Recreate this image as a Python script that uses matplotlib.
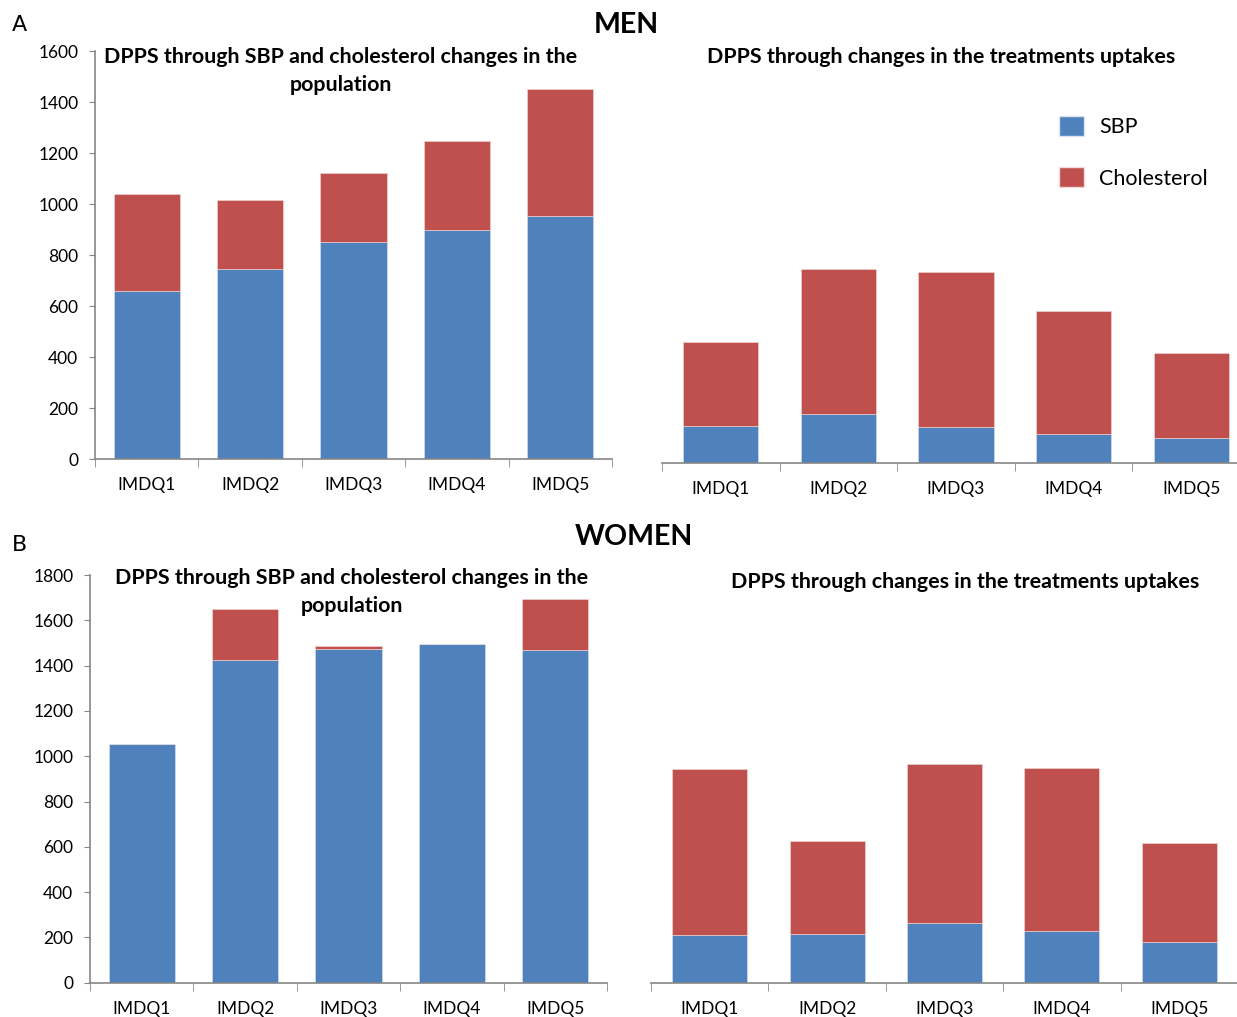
import matplotlib
matplotlib.use("Agg")
import matplotlib.pyplot as plt
from matplotlib.patches import Patch
import numpy as np

plt.rcParams['font.family'] = ['Lato', 'DejaVu Sans']

quintiles = ['IMDQ1', 'IMDQ2', 'IMDQ3', 'IMDQ4', 'IMDQ5']

# men - population level changes (total bar = SBP + cholesterol)
men_pop_sbp = [660, 746, 850, 899, 953]
men_pop_chol = [380, 269, 271, 348, 497]
# men - treatment uptakes
men_trt_sbp = [146, 194, 144, 114, 98]
men_trt_chol = [328, 569, 607, 482, 334]

# women - population level changes
women_pop_sbp = [1052, 1425, 1472, 1494, 1469]
women_pop_chol = [0, 226, 16, 3, 225]
# women - treatment uptakes
women_trt_sbp = [210, 216, 264, 230, 178]
women_trt_chol = [733, 411, 703, 718, 440]

blue = '#4F81BD'
red = '#C0504D'
grey = '#868686'

W, H = 1237, 1017
fig = plt.figure(figsize=(W / 100, H / 100), dpi=100)


def px_axes(left, right, bottom, top):
    return fig.add_axes([left / W, 1 - bottom / H, (right - left) / W, (bottom - top) / H])


def draw(ax, sbp, chol, ymax, yticks=True):
    x = np.arange(len(quintiles))
    ax.bar(x, sbp, width=0.64, color=blue, edgecolor='#DCE6F2', linewidth=0.4)
    ax.bar(x, chol, width=0.64, bottom=sbp, color=red, edgecolor='#F2DCDB', linewidth=0.4)
    ax.set_xlim(-0.5, len(quintiles) - 0.5)
    ax.set_ylim(0, ymax)
    ax.set_xticks(x)
    ax.set_xticklabels(quintiles, fontsize=12.5)
    ax.set_xticks(np.arange(len(quintiles) + 1) - 0.5, minor=True)
    ax.tick_params(axis='x', which='major', length=0, pad=13)
    ax.tick_params(axis='x', which='minor', length=6, color=grey, direction='out')
    for s in ['top', 'right']:
        ax.spines[s].set_visible(False)
    ax.spines['bottom'].set_color(grey)
    ax.spines['bottom'].set_linewidth(1.2)
    if yticks:
        ax.spines['left'].set_color(grey)
        ax.spines['left'].set_linewidth(1.2)
        ax.set_yticks(np.arange(0, ymax + 1, 200))
        ax.tick_params(axis='y', length=4, color=grey, pad=8, labelsize=12.5)
    else:
        ax.spines['left'].set_visible(False)
        ax.set_yticks([])
    ax.set_facecolor('none')


ax1 = px_axes(95, 612, 459.3, 51)
draw(ax1, men_pop_sbp, men_pop_chol, 1600)
ax2 = px_axes(662, 1250, 463.3, 55)
draw(ax2, men_trt_sbp, men_trt_chol, 1600, yticks=False)
ax3 = px_axes(90, 607, 982.7, 575)
draw(ax3, women_pop_sbp, women_pop_chol, 1800)
ax4 = px_axes(651, 1238, 982.7, 575)
draw(ax4, women_trt_sbp, women_trt_chol, 1800, yticks=False)

title_kw = dict(fontsize=15.4, fontweight='bold', ha='center', va='center')
fig.text(341 / W, 1 - 57 / H, 'DPPS through SBP and cholesterol changes in the', **title_kw)
fig.text(341 / W, 1 - 85 / H, 'population', **title_kw)
fig.text(941 / W, 1 - 57 / H, 'DPPS through changes in the treatments uptakes', **title_kw)
fig.text(352 / W, 1 - 578 / H, 'DPPS through SBP and cholesterol changes in the', **title_kw)
fig.text(352 / W, 1 - 606 / H, 'population', **title_kw)
fig.text(965 / W, 1 - 582 / H, 'DPPS through changes in the treatments uptakes', **title_kw)

fig.text(626 / W, 1 - 25 / H, 'MEN', fontsize=20.5, fontweight='bold', ha='center', va='center')
fig.text(634 / W, 1 - 537 / H, 'WOMEN', fontsize=20.5, fontweight='bold', ha='center', va='center')
fig.text(12 / W, 1 - 25 / H, 'A', fontsize=16, ha='left', va='center', family='DejaVu Sans')
fig.text(12 / W, 1 - 545 / H, 'B', fontsize=16, ha='left', va='center', family='DejaVu Sans')

handles = [Patch(facecolor=blue, edgecolor='#DCE6F2'), Patch(facecolor=red, edgecolor='#F2DCDB')]
fig.legend(handles, ['SBP', 'Cholesterol'], loc='upper left',
           bbox_to_anchor=(1059 / W, 1 - 116 / H), frameon=False, fontsize=15.5,
           handlelength=1.15, handleheight=1.05, handletextpad=0.7,
           labelspacing=1.4, borderpad=0, borderaxespad=0)

fig.savefig('out.png', dpi=100)
